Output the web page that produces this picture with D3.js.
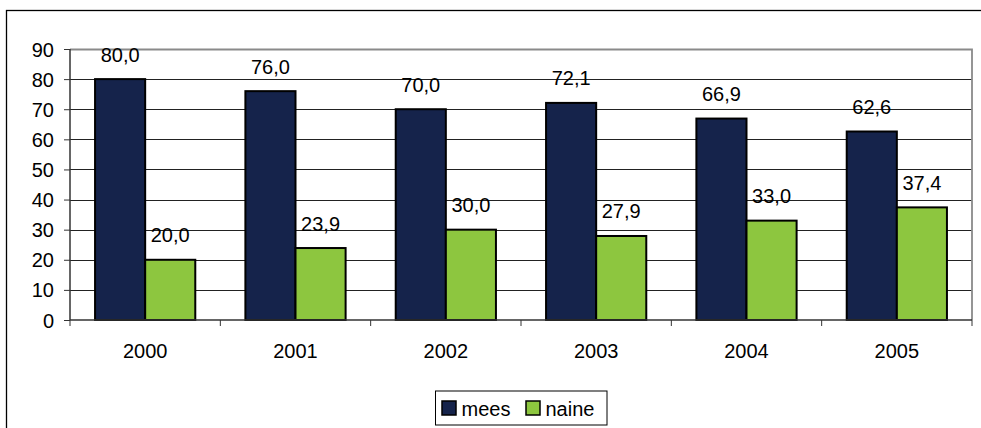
<!DOCTYPE html>
<html><head><meta charset="utf-8">
<script src="https://cdn.jsdelivr.net/npm/d3@7/dist/d3.min.js"></script>
<style>
html,body{margin:0;padding:0;background:#fff;}
svg{display:block;font-family:"Liberation Sans",Arial,sans-serif;}
</style></head>
<body><svg id="c" width="981" height="428"></svg>
<script>
const years = ["2000","2001","2002","2003","2004","2005"];
const mees = [80.0,76.0,70.0,72.1,66.9,62.6];
const naine = [20.0,23.9,30.0,27.9,33.0,37.4];
const seriesNames = ["mees","naine"];
const seriesColors = ["#15234b","#8dc63f"];
const yTicks = [0,10,20,30,40,50,60,70,80,90];

const svg = d3.select("#c");
const L=70, R=972, T=49, B=320;
const fs = 20;

// outer chart border
svg.append("rect").attr("x",6.5).attr("y",10.5).attr("width",1000).attr("height",1000)
  .attr("fill","none").attr("stroke","#000").attr("stroke-width",1.3);

const x = d3.scaleBand().domain(years).range([L,R]).paddingInner(1/3).paddingOuter(1/6);
const y = d3.scaleLinear().domain([0,90]).range([B,T]);
const xs = d3.scaleBand().domain(seriesNames).range([0,x.bandwidth()]);

// gridlines
svg.append("g").selectAll("line").data(yTicks.filter(d=>d>0 && d<90)).join("line")
  .attr("x1",L).attr("x2",R).attr("y1",d=>Math.round(y(d))+0.5).attr("y2",d=>Math.round(y(d))+0.5)
  .attr("stroke","#222").attr("stroke-width",1);

// plot border top/right gray
svg.append("path").attr("d",`M${L},${T+0.5}H${R}V${B}`).attr("fill","none")
  .attr("stroke","#8a8a8a").attr("stroke-width",1.8);

// bars
const series = [mees, naine];
series.forEach((vals,si)=>{
  svg.append("g").selectAll("rect").data(vals).join("rect")
    .attr("x",(d,i)=>x(years[i])+xs(seriesNames[si]))
    .attr("y",d=>y(d))
    .attr("width",xs.bandwidth())
    .attr("height",d=>B-y(d))
    .attr("fill",seriesColors[si]).attr("stroke","#000").attr("stroke-width",2);
  svg.append("g").selectAll("text").data(vals).join("text")
    .attr("x",(d,i)=>x(years[i])+xs(seriesNames[si])+xs.bandwidth()/2)
    .attr("y",d=>y(d)-17.5)
    .attr("text-anchor","middle").attr("font-size",fs).attr("fill","#000")
    .text(d=>d.toFixed(1).replace(".",","));
});

// y axis
const ya = d3.axisLeft(y).tickValues(yTicks).tickSize(6).tickPadding(10).tickFormat(d=>d);
const gy = svg.append("g").attr("transform",`translate(${L},0)`).call(ya);
gy.select(".domain").attr("stroke","#333").attr("stroke-width",1.5).attr("d",`M0,${B}V${T}`);
gy.selectAll(".tick line").attr("stroke","#333");
gy.selectAll(".tick text").attr("font-size",fs).attr("font-family","Liberation Sans, Arial, sans-serif").attr("fill","#000").attr("dy","0.35em");

// x axis
const boundaries = years.map(yr=>x(yr)-x.step()*x.paddingInner()/2).concat([R]);
const gx = svg.append("g");
gx.append("line").attr("x1",L).attr("x2",R).attr("y1",B).attr("y2",B).attr("stroke","#333").attr("stroke-width",1.5);
gx.selectAll("line.t").data(boundaries).join("line").attr("class","t")
  .attr("x1",d=>d).attr("x2",d=>d).attr("y1",B).attr("y2",B+6).attr("stroke","#333");
gx.selectAll("text").data(years).join("text")
  .attr("x",d=>x(d)+x.bandwidth()/2).attr("y",358)
  .attr("text-anchor","middle").attr("font-size",fs).attr("fill","#000").text(d=>d);

// legend
const lg = svg.append("g");
lg.append("rect").attr("x",435.5).attr("y",391).attr("width",171.5).attr("height",34)
  .attr("fill","#fff").attr("stroke","#000").attr("stroke-width",1);
const legX = [442, 526];
seriesNames.forEach((n,i)=>{
  lg.append("rect").attr("x",legX[i]).attr("y",401).attr("width",14).attr("height",14)
    .attr("fill",seriesColors[i]).attr("stroke","#000").attr("stroke-width",1.5);
  lg.append("text").attr("x",legX[i]+19.5).attr("y",416).attr("font-size",fs).attr("fill","#000").text(n);
});
</script></body></html>
